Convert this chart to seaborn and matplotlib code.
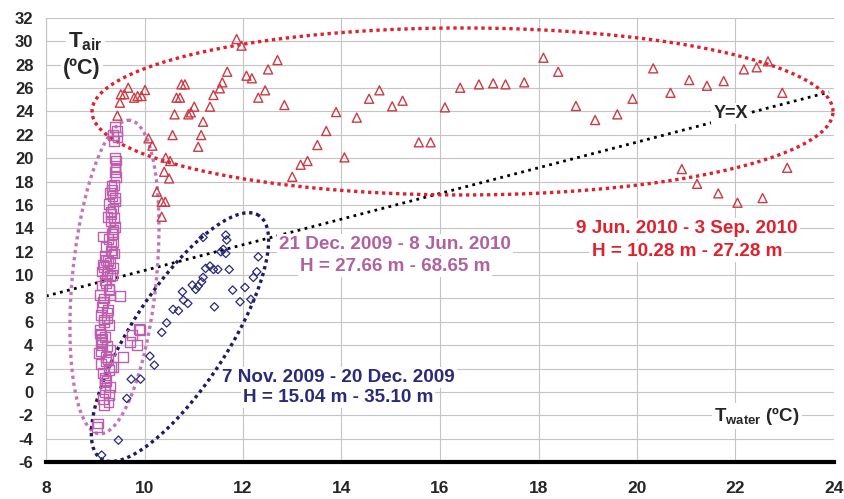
import numpy as np
import pandas as pd
import matplotlib
matplotlib.use("Agg")
import matplotlib.pyplot as plt
import seaborn as sns

# ---------------- data ----------------
summer_x = [9.45, 9.50, 9.52, 9.59, 9.67, 9.79, 9.86, 9.94, 10.01, 10.08, 10.16, 10.43, 10.52,
            10.40, 10.50, 10.25, 10.35, 10.42, 10.35, 10.57, 10.61, 10.65, 10.72, 10.75, 10.82,
            10.89, 10.94, 11.01, 11.19, 11.15, 11.09, 11.33, 11.40, 11.53, 11.58, 11.68, 11.87,
            11.97, 12.07, 12.18, 12.31, 12.45, 12.51, 12.70, 12.84, 13.00, 13.17, 13.31, 13.51,
            13.69, 13.89, 14.06, 14.31, 14.56, 14.77, 15.03, 15.24, 15.57, 15.81, 16.10, 16.41,
            16.79, 17.08, 17.33, 17.71, 18.10, 18.40, 18.76, 19.15, 19.60, 19.91, 20.33, 20.68,
            21.06, 21.42, 21.76, 22.17, 22.43, 22.66, 22.95, 20.91, 21.22, 21.65, 22.04, 22.55,
            23.05]
summer_y = [23.64, 24.75, 25.47, 25.47, 26.03, 25.18, 25.32, 25.32, 25.84, 21.70, 21.07, 20.04, 19.76,
            18.84, 18.27, 17.13, 16.27, 16.27, 14.99, 21.98, 23.75, 25.18, 25.18, 26.32, 26.32,
            23.75, 23.92, 24.41, 23.12, 21.98, 20.98, 24.41, 25.41, 25.98, 26.49, 27.40, 30.20,
            29.63, 27.06, 26.84, 25.18, 25.81, 27.60, 28.40, 24.55, 18.41, 19.44, 19.76, 21.13,
            22.33, 23.95, 20.07, 23.47, 25.09, 25.81, 24.44, 24.92, 21.36, 21.36, 24.35, 26.03,
            26.32, 26.41, 26.32, 26.49, 28.60, 27.40, 24.47, 23.27, 23.75, 25.09, 27.69, 25.60,
            26.69, 26.20, 26.60, 27.60, 27.78, 28.29, 25.60, 19.07, 17.81, 16.99, 16.19, 16.59,
            19.18]

spring_x = [9.40, 9.44, 9.36, 9.45, 9.38, 9.40, 9.42, 9.41, 9.40, 9.38, 9.34, 9.30, 9.40, 9.28,
            9.36, 9.25, 9.31, 9.40, 9.36, 9.16, 9.27, 9.36, 9.22, 9.32, 9.38, 9.20, 9.30, 9.18,
            9.36, 9.24, 9.14, 9.34, 9.20, 9.14, 9.28, 9.10, 9.30, 9.50, 9.16, 9.26, 9.12, 9.18,
            9.28, 9.10, 9.20, 9.12, 9.24, 9.08, 9.22, 9.12, 9.32, 9.28, 9.16, 9.37, 9.30, 9.20,
            9.28, 9.18, 9.27, 9.03, 9.06, 9.91, 9.74, 9.71, 9.84, 9.57, 9.89, 9.20, 9.33, 9.22,
            9.37, 9.16, 9.31, 9.22, 9.35, 9.14, 9.30, 9.10, 9.24, 9.30, 9.14, 9.26, 9.38, 9.34,
            9.40, 9.33, 9.42, 9.18, 9.24, 9.12, 9.20, 9.12, 9.20, 9.16, 9.34, 9.26, 9.41, 9.32,
            9.25, 9.17, 9.21, 9.29, 9.13, 9.23]
spring_y = [22.70, 22.30, 22.00, 21.80, 21.50, 20.00, 19.80, 19.30, 18.80, 17.70, 17.30, 17.00, 16.60, 16.10,
            15.70, 15.00, 14.60, 14.10, 13.70, 13.30, 13.10, 12.85, 12.40, 12.10, 11.85, 11.60, 11.00, 10.70,
            10.60, 10.10, 10.30, 10.00, 9.60, 9.10, 8.70, 8.30, 8.25, 8.20, 7.70, 7.00, 6.60, 6.00,
            5.70, 5.30, 4.70, 4.30, 3.90, 3.30, 3.00, 2.40, 2.15, 1.90, 1.60, 2.15, 0.40, 0.00,
            -0.30, -1.10, -0.90, -3.00, -2.70, 5.30, 4.86, 4.30, 4.00, 3.00, 5.35, 1.20, 12.60, 11.30,
            13.90, 10.90, 15.40, 9.30, 16.80, 7.30, 9.90, 5.00, 6.30, 3.60, 4.00, 2.80, 14.90, 12.00,
            16.30, 17.60, 18.40, 8.00, 6.80, 3.50, 1.00, 4.90, 0.60, -0.60, 13.50, 11.20, 19.10, 15.20,
            10.40, 6.20, 2.60, 8.80, 4.50, 0.90]

autumn_x = [9.13, 9.47, 9.64, 9.73, 9.92, 10.11, 10.20, 10.35, 10.45, 10.58, 10.69, 10.77, 10.79,
            10.88, 10.97, 11.04, 11.09, 11.16, 11.19, 11.24, 11.33, 11.40, 11.49, 11.42, 11.55,
            11.60, 11.65, 11.72, 11.65, 11.67, 11.19, 11.79, 11.94, 12.04, 12.16, 12.21, 12.28,
            12.31]
autumn_y = [-5.41, -4.13, -0.56, 1.09, 1.09, 3.06, 2.29, 5.09, 5.91, 7.06, 6.94, 8.57, 7.86,
            7.57, 9.14, 8.77, 9.05, 9.42, 9.80, 10.57, 10.77, 10.48, 10.48, 7.28, 11.99,
            12.20, 11.85, 10.48, 13.42, 13.00, 13.22, 8.71, 7.71, 8.94, 7.92, 9.80, 10.28,
            11.56]

x_ticks = [8, 10, 12, 14, 16, 18, 20, 22, 24]
y_ticks = list(range(-6, 33, 2))

yx_line_x = [8.0, 23.9]
yx_line_y = [8.2, 25.66]

# ---------------- style ----------------
sns.set_style("white")
plt.rcParams['font.family'] = ['Liberation Sans', 'DejaVu Sans']
plt.rcParams['mathtext.fontset'] = 'custom'
plt.rcParams['mathtext.rm'] = 'Liberation Sans'
plt.rcParams['mathtext.bf'] = 'Liberation Sans:bold'

RED = '#CC3A44'
RED_ELL = '#E0202C'
PINK = '#BD5FAF'
PINK_ELL = '#C474BA'
PINK_TXT = '#B0619F'
NAVY = '#2A2A78'
NAVY_ELL = '#1E1A66'

fig = plt.figure(figsize=(8.45, 4.99), dpi=100)
ax = fig.add_axes([46/845, 1-462/499, (834-46)/845, (462-18)/499])

df_s = pd.DataFrame({'x': summer_x, 'y': summer_y})
df_p = pd.DataFrame({'x': spring_x, 'y': spring_y})
df_a = pd.DataFrame({'x': autumn_x, 'y': autumn_y})

ax.set_xlim(8, 24)
ax.set_ylim(-6, 32)

sns.scatterplot(data=df_p, x='x', y='y', marker='s', s=50, color=PINK, linewidth=1.0, ax=ax, zorder=3)
ax.collections[-1].set_facecolor('none'); ax.collections[-1].set_edgecolor(PINK)
sns.scatterplot(data=df_s, x='x', y='y', marker='^', s=42, color=RED, linewidth=1.0, ax=ax, zorder=3)
ax.collections[-1].set_facecolor('none'); ax.collections[-1].set_edgecolor(RED)
sns.scatterplot(data=df_a, x='x', y='y', marker='D', s=18, color=NAVY, linewidth=0.9, ax=ax, zorder=3)
ax.collections[-1].set_facecolor('none'); ax.collections[-1].set_edgecolor(NAVY)

# Y = X guide line
ax.plot(yx_line_x, yx_line_y, color='black', lw=2.0, linestyle=(0, (1, 1.6)),
        dash_capstyle='butt', zorder=2)

# ellipses built in display space (center in data units, semi axes in pixels)
def draw_ellipse(cx, cy, a_px, b_px, ang_deg, color, lw=2.4, dash=(1, 1.1)):
    fig.canvas.draw()
    c = ax.transData.transform((cx, cy))
    t = np.linspace(0, 2*np.pi, 400)
    th = np.deg2rad(ang_deg)
    ex = a_px*np.cos(t)*np.cos(th) - b_px*np.sin(t)*np.sin(th) + c[0]
    ey = a_px*np.cos(t)*np.sin(th) + b_px*np.sin(t)*np.cos(th) + c[1]
    pts = ax.transData.inverted().transform(np.column_stack([ex, ey]))
    ax.plot(pts[:, 0], pts[:, 1], color=color, lw=lw, linestyle=(0, dash),
            dash_capstyle='butt', zorder=2.5, clip_on=False)

draw_ellipse(16.457, 24.0, 370.5, 83.5, 0, RED_ELL)
draw_ellipse(9.39, 9.83, 157.5, 42, 84.4, PINK_ELL)
draw_ellipse(10.72, 4.69, 145, 48, 57, NAVY_ELL)

# grid / axes
ax.set_xticks(x_ticks)
ax.set_yticks(y_ticks)
ax.set_xticklabels([str(v) for v in x_ticks], fontsize=12.5, fontweight='bold')
ax.set_yticklabels([str(v) for v in y_ticks], fontsize=12, fontweight='bold')
ax.grid(True, color='#C4C4C4', lw=0.8)
ax.set_axisbelow(True)
for s in ['top', 'right']:
    ax.spines[s].set_visible(False)
ax.spines['left'].set_color('#C4C4C4')
ax.spines['left'].set_linewidth(0.8)
ax.spines['bottom'].set_color('black')
ax.spines['bottom'].set_linewidth(3)
ax.tick_params(axis='y', length=5, width=0.8, color='#B0B0B0', pad=4)
ax.tick_params(axis='x', length=5, width=2, color='black', pad=9)
ax.set_xlabel('')
ax.set_ylabel('')

bb = dict(facecolor='white', edgecolor='none', pad=1.5)
ax.text(8.45, 30.0, r'$\mathbf{T}_{\mathbf{air}}$', fontsize=16, ha='left', va='center', bbox=bb, zorder=4)
ax.text(8.35, 27.7, '(ºC)', fontsize=15.5, fontweight='bold', ha='left', va='center', bbox=bb, zorder=4)
ax.text(22.44, -2.1, r'$\mathbf{T}_{\mathbf{water}}$' + ' (ºC)', fontsize=13.5, fontweight='bold',
        ha='center', va='center', bbox=bb, zorder=4)
ax.text(21.9, 23.8, 'Y=X', fontsize=13, fontweight='bold', ha='center', va='center', bbox=bb, zorder=4)

FS = 13.6
ax.text(15.09, 12.65, '21 Dec. 2009 - 8 Jun. 2010', color=PINK_TXT, fontsize=FS, fontweight='bold',
        ha='center', va='center', bbox=bb, zorder=4)
ax.text(15.09, 10.75, 'H = 27.66 m - 68.65 m', color=PINK_TXT, fontsize=FS, fontweight='bold',
        ha='center', va='center', bbox=bb, zorder=4)
ax.text(13.93, 1.26, '7 Nov. 2009 - 20 Dec. 2009', color=NAVY, fontsize=FS, fontweight='bold',
        ha='center', va='center', bbox=bb, zorder=4)
ax.text(13.93, -0.45, 'H = 15.04 m - 35.10 m', color=NAVY, fontsize=FS, fontweight='bold',
        ha='center', va='center', bbox=bb, zorder=4)
ax.text(21.01, 14.0, '9 Jun. 2010 - 3 Sep. 2010', color=RED_ELL, fontsize=FS, fontweight='bold',
        ha='center', va='center', bbox=bb, zorder=4)
ax.text(21.01, 12.0, 'H = 10.28 m - 27.28 m', color=RED_ELL, fontsize=FS, fontweight='bold',
        ha='center', va='center', bbox=bb, zorder=4)

fig.savefig('out.png', dpi=100)
